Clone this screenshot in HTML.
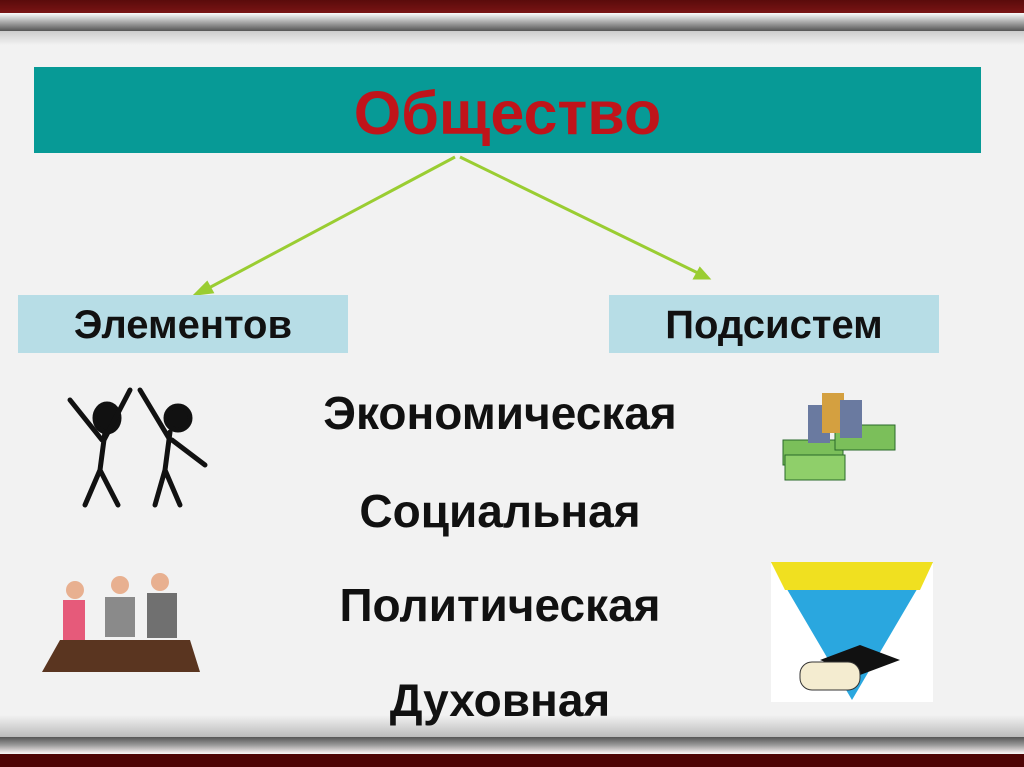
<!DOCTYPE html>
<html><head><meta charset="utf-8"><style>
body{margin:0;width:1024px;height:767px;position:relative;overflow:hidden;background:#f2f2f2;font-family:"Liberation Sans",sans-serif;}
.a{position:absolute}
.t{position:absolute;font-weight:bold;text-align:center;color:#111;line-height:1;white-space:nowrap}
</style></head><body>
<div class="a" style="left:0;top:0;width:1024px;height:13px;background:linear-gradient(#5a0b0b,#7a1414)"></div>
<div class="a" style="left:0;top:13px;width:1024px;height:18px;background:linear-gradient(#fafafa,#bbb 40%,#555)"></div>
<div class="a" style="left:0;top:31px;width:1024px;height:14px;background:linear-gradient(#ccc,#f2f2f2)"></div>
<div class="a" style="left:0;top:715px;width:1024px;height:22px;background:linear-gradient(#f2f2f2,#bbb)"></div>
<div class="a" style="left:0;top:737px;width:1024px;height:16px;background:linear-gradient(#555,#999 50%,#f5eeee)"></div>
<div class="a" style="left:0;top:754px;width:1024px;height:13px;background:#4e0404"></div>

<div class="a" style="left:34px;top:67px;width:947px;height:86px;background:#079a96"></div>
<div class="t" style="left:34px;top:83px;width:947px;font-size:61px;color:#c0141a">Общество</div>

<svg class="a" style="left:0;top:0" width="1024" height="767">
<g stroke="#9acd32" stroke-width="3" fill="#9acd32">
<line x1="455" y1="157" x2="205" y2="290"/><line x1="460" y1="157" x2="700" y2="274"/>
<polygon points="196,294 207,283 212,292" /><polygon points="708,278 695,278 700,269"/>
</g>
<g fill="#111" stroke="#111" stroke-width="5" stroke-linecap="round">
<ellipse cx="107" cy="418" rx="12" ry="14"/>
<path d="M105 432 L100 470 M102 440 L70 400 M104 440 L130 390 M100 470 L85 505 M100 470 L118 505" fill="none"/>
<ellipse cx="178" cy="418" rx="12" ry="12"/>
<path d="M170 432 L165 470 M165 470 L155 505 M165 470 L180 505 M170 440 L140 390 M172 440 L205 465" fill="none"/>
</g>
<polygon points="60,640 190,640 200,672 42,672" fill="#5a3520"/>
<circle cx="75" cy="590" r="9" fill="#e8b090"/><rect x="63" y="600" width="22" height="40" fill="#e65a7a"/>
<circle cx="120" cy="585" r="9" fill="#e8b090"/><rect x="105" y="597" width="30" height="40" fill="#8a8a8a"/>
<circle cx="160" cy="582" r="9" fill="#e8b090"/><rect x="147" y="593" width="30" height="45" fill="#707070"/>
<g><rect x="783" y="440" width="60" height="25" fill="#7bbf5a" stroke="#2a6a2a"/><rect x="835" y="425" width="60" height="25" fill="#7bbf5a" stroke="#2a6a2a"/>
<rect x="785" y="455" width="60" height="25" fill="#8fcf6a" stroke="#2a6a2a"/>
<rect x="808" y="405" width="22" height="38" fill="#6a7aa0"/><rect x="822" y="393" width="22" height="40" fill="#d4a040"/><rect x="840" y="400" width="22" height="38" fill="#6a7aa0"/></g>
<rect x="771" y="562" width="162" height="140" fill="#fff"/>
<polygon points="771,562 933,562 852,700" fill="#2aa7df"/>
<polygon points="771,562 933,562 920,590 785,590" fill="#f0e020"/>
<polygon points="820,660 860,645 900,660 860,675" fill="#111"/>
<rect x="800" y="662" width="60" height="28" rx="12" fill="#f4ecd0" stroke="#333"/>
</svg>

<div class="a" style="left:18px;top:295px;width:330px;height:58px;background:#b7dde6"></div>
<div class="t" style="left:18px;top:305px;width:330px;font-size:40px">Элементов</div>
<div class="a" style="left:609px;top:295px;width:330px;height:58px;background:#b7dde6"></div>
<div class="t" style="left:609px;top:305px;width:330px;font-size:40px">Подсистем</div>

<div class="t" style="left:200px;top:390px;width:600px;font-size:46px">Экономическая</div>
<div class="t" style="left:200px;top:488px;width:600px;font-size:46px">Социальная</div>
<div class="t" style="left:200px;top:582px;width:600px;font-size:46px">Политическая</div>
<div class="t" style="left:200px;top:677px;width:600px;font-size:46px">Духовная</div>
</body></html>
